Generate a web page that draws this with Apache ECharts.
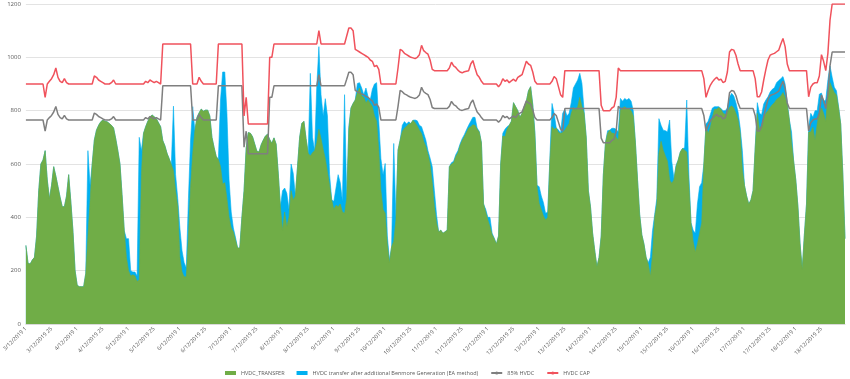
<!DOCTYPE html>
<html>
<head>
<meta charset="utf-8">
<script src="https://cdn.jsdelivr.net/npm/echarts@6/dist/echarts.min.js"></script>
<style>
html,body{margin:0;padding:0;background:#fff;}
#chart{width:850px;height:379px;}
</style>
</head>
<body>
<div id="chart"></div>
<script>
// Days of December 2019 shown; hourly samples (trading periods 1,3,5,...,47)
const days = [3,4,5,6,7,8,9,10,11,12,13,14,15,16,17,18];
const categories = [];
days.forEach(function(d){ for (let i = 0; i < 24; i++) categories.push(d + '/12/2019 ' + (1 + 2 * i)); });

const seriesNames = ['HVDC_TRANSFER','HVDC transfer after additional Benmore Generation (EA method)','85% HVDC','HVDC CAP'];

const hvdcTransfer = [
 295,228,225,240,250,330,500,600,615,650,540,470,520,590,555,515,475,440,440,480,560,460,350,200,
 145,140,140,140,190,330,460,600,690,727,745,758,765,760,758,752,745,735,695,650,600,480,350,250,
 200,180,185,180,160,165,560,715,740,760,775,784,777,770,755,740,688,668,640,620,598,575,500,440,
 250,195,177,177,330,515,640,725,775,792,806,798,802,802,780,700,662,628,617,590,525,530,470,400,
 360,345,315,285,285,400,500,660,718,715,702,675,648,645,672,690,705,712,692,678,698,675,565,440,
 352,420,365,400,500,465,480,590,700,752,760,695,640,630,642,650,680,730,695,655,620,570,520,465,
 430,445,440,450,420,415,470,730,810,827,840,868,885,855,850,830,840,827,815,780,760,650,500,430,
 415,300,230,290,310,390,652,690,722,734,742,750,752,764,755,742,727,714,685,666,636,600,530,440,
 380,345,352,340,346,352,590,600,605,628,642,668,688,702,718,735,740,747,745,730,720,680,450,420,
 390,365,335,320,300,330,600,705,702,730,745,760,830,815,800,775,790,815,835,875,890,820,710,515,
 452,428,405,390,400,610,740,730,735,718,715,718,727,740,752,790,812,802,815,850,815,790,700,500,
 440,340,275,215,250,330,560,680,715,727,715,715,700,690,802,810,815,808,805,800,780,680,540,410,
 335,300,250,225,180,260,400,450,640,685,652,630,610,540,528,540,590,615,645,658,652,645,520,380,
 310,270,300,340,380,600,740,715,735,775,805,805,812,805,790,786,792,812,818,810,790,765,715,580,
 520,480,450,465,500,660,790,730,745,775,790,800,812,822,830,842,848,855,868,850,822,765,680,610,
 540,440,300,205,335,450,720,720,738,690,750,792,810,790,760,865,905,885,868,858,810,750,560,320
];

const hvdcAfterBenmore = [
 295,228,225,240,250,330,500,600,615,650,540,470,520,590,555,515,475,440,440,480,560,460,350,200,
 145,140,140,140,190,650,520,600,690,727,745,758,765,760,758,752,745,735,695,650,600,480,350,320,
 320,200,195,195,180,700,650,715,740,760,775,784,777,770,755,740,688,668,640,620,598,817,560,470,
 360,275,230,210,470,690,815,725,775,792,806,798,802,802,780,700,662,628,617,840,945,945,790,540,
 420,360,325,285,285,400,500,660,718,715,702,675,648,645,672,690,705,712,692,678,698,675,565,440,
 500,510,490,430,600,565,480,590,700,752,760,695,640,940,700,650,890,1040,860,780,845,780,560,465,
 460,510,560,530,460,860,470,740,810,827,840,902,905,885,860,885,852,840,880,900,905,760,620,560,
 602,330,240,290,677,400,652,690,745,759,750,758,752,764,765,762,745,740,715,690,650,622,590,500,
 410,345,352,340,346,352,590,605,610,635,650,675,695,710,728,745,760,775,775,735,722,680,450,430,
 400,400,340,322,300,330,600,715,730,740,745,760,830,815,800,775,790,815,835,875,890,825,720,520,
 515,480,455,415,420,620,827,790,735,728,715,790,805,780,790,830,885,900,915,940,902,800,700,500,
 440,340,275,215,250,330,560,680,725,727,734,734,730,720,846,835,846,840,846,835,800,680,540,410,
 335,300,250,230,250,350,410,470,770,745,727,725,720,765,610,545,595,615,645,658,660,840,560,380,
 352,340,450,515,530,600,750,760,785,810,815,815,815,808,800,800,810,850,865,855,830,795,735,650,
 520,480,450,465,500,660,830,790,785,825,840,852,870,880,886,905,913,920,928,900,830,765,720,610,
 540,440,300,205,335,450,740,790,775,800,800,862,866,835,840,915,968,925,888,875,815,750,560,320
];

const hvdc85 = [
 765,765,765,765,765,765,765,765,765,723,765,774,782,795,816,786,774,769,782,769,765,765,765,765,
 765,765,765,765,765,765,765,765,791,786,778,774,769,765,765,765,769,778,765,765,765,765,765,765,
 765,765,765,765,765,765,765,765,774,769,778,774,769,774,769,765,893,893,893,893,893,893,893,893,
 893,893,893,893,893,893,765,765,765,786,774,765,765,765,765,765,765,765,893,893,893,893,893,893,
 893,893,893,893,893,893,663,723,638,638,638,638,638,638,638,638,638,638,850,850,893,893,893,893,
 893,893,893,893,893,893,893,893,893,893,893,893,893,893,893,893,893,935,893,893,893,893,893,893,
 893,893,893,893,893,893,918,944,944,935,876,871,867,863,859,854,850,842,837,820,825,812,765,765,
 765,765,765,765,765,765,816,876,871,863,859,854,850,848,846,850,859,888,871,865,860,842,812,808,
 808,808,808,808,808,808,816,835,823,818,809,803,801,804,806,808,829,840,816,795,786,774,765,765,
 765,765,765,765,765,757,765,782,774,778,769,775,780,774,786,791,795,816,837,829,825,803,774,765,
 765,765,765,765,765,765,774,789,782,757,731,723,808,808,808,808,808,808,808,808,808,808,808,808,
 808,808,808,808,808,697,680,680,680,680,689,693,723,816,808,808,808,808,808,808,808,808,808,808,
 808,808,808,808,808,808,808,808,808,808,808,808,808,808,808,808,808,808,808,808,808,808,808,808,
 808,808,808,808,808,782,723,744,761,772,780,786,778,780,769,774,803,867,876,873,857,829,808,808,
 808,808,808,808,808,782,724,724,740,778,812,842,857,860,863,868,873,893,910,884,829,808,808,808,
 808,808,808,808,808,808,724,755,765,769,769,791,859,837,808,863,969,1020,1020,1020,1020,1020,1020,1020
];

const hvdcCap = [
 900,900,900,900,900,900,900,900,900,850,900,910,920,935,960,925,910,905,920,905,900,900,900,900,
 900,900,900,900,900,900,900,900,930,925,915,910,905,900,900,900,905,915,900,900,900,900,900,900,
 900,900,900,900,900,900,900,900,910,905,915,910,905,910,905,900,1050,1050,1050,1050,1050,1050,1050,1050,
 1050,1050,1050,1050,1050,1050,900,900,900,925,910,900,900,900,900,900,900,900,1050,1050,1050,1050,1050,1050,
 1050,1050,1050,1050,1050,1050,780,850,750,750,750,750,750,750,750,750,750,750,1000,1000,1050,1050,1050,1050,
 1050,1050,1050,1050,1050,1050,1050,1050,1050,1050,1050,1050,1050,1050,1050,1050,1050,1100,1050,1050,1050,1050,1050,1050,
 1050,1050,1050,1050,1050,1050,1080,1110,1110,1100,1030,1025,1020,1015,1010,1005,1000,990,985,965,970,955,900,900,
 900,900,900,900,900,900,960,1030,1025,1015,1010,1005,1000,998,995,1000,1010,1045,1025,1018,1012,990,955,950,
 950,950,950,950,950,950,960,982,968,962,952,945,942,946,948,950,975,988,960,935,925,910,900,900,
 900,900,900,900,900,890,900,920,910,915,905,912,918,910,925,930,935,960,985,975,970,945,910,900,
 900,900,900,900,900,900,910,928,920,890,860,850,950,950,950,950,950,950,950,950,950,950,950,950,
 950,950,950,950,950,820,800,800,800,800,810,815,850,960,950,950,950,950,950,950,950,950,950,950,
 950,950,950,950,950,950,950,950,950,950,950,950,950,950,950,950,950,950,950,950,950,950,950,950,
 950,950,950,950,950,920,850,875,895,908,918,925,915,918,905,910,945,1020,1030,1027,1008,975,950,950,
 950,950,950,950,950,920,852,852,870,915,955,990,1008,1012,1015,1021,1027,1050,1071,1040,975,950,950,950,
 950,950,950,950,950,950,852,888,900,905,905,930,1010,985,950,1015,1140,1200,1200,1200,1200,1200,1200,1200
];

const colors = { green: '#70AD47', blue: '#00B0F0', grey: '#7F7F7F', red: '#F0525C' };
const font = 'Open Sans, Liberation Sans, sans-serif';

const chart = echarts.init(document.getElementById('chart'), null, { renderer: 'canvas' });
chart.setOption({
  animation: false,
  backgroundColor: '#ffffff',
  grid: { left: 22, right: 5, top: 4, bottom: 55, containLabel: false },
  legend: {
    left: 220, top: 365,
    itemWidth: 11, itemHeight: 4, itemGap: 12,
    textStyle: { fontSize: 5.5, color: '#595959', fontFamily: font },
    data: [
      { name: seriesNames[0], icon: 'rect' },
      { name: seriesNames[1], icon: 'rect' },
      { name: seriesNames[2] },
      { name: seriesNames[3] }
    ]
  },
  xAxis: {
    type: 'category',
    data: categories,
    boundaryGap: false,
    axisLine: { show: true, lineStyle: { color: '#D9D9D9', width: 1 } },
    axisTick: { show: false },
    axisLabel: {
      interval: function (idx) { return idx % 12 === 0; },
      rotate: 45, fontSize: 5.5, color: '#595959', margin: 4, fontFamily: font
    },
    splitLine: { show: false }
  },
  yAxis: {
    type: 'value', min: 0, max: 1200, interval: 200,
    axisLine: { show: false }, axisTick: { show: false },
    axisLabel: { fontSize: 6, color: '#595959', margin: 5, fontFamily: font,
      formatter: function (v) { return String(v); } },
    splitLine: { show: true, lineStyle: { color: '#E3E3E3', width: 1 } }
  },
  series: [
    {
      name: seriesNames[1], type: 'line', data: hvdcAfterBenmore, symbol: 'none', z: 1,
      itemStyle: { color: colors.blue },
      lineStyle: { color: colors.blue, width: 0.6 },
      areaStyle: { color: colors.blue, opacity: 1 }
    },
    {
      name: seriesNames[0], type: 'line', data: hvdcTransfer, symbol: 'none', z: 2,
      itemStyle: { color: colors.green },
      lineStyle: { color: colors.green, width: 0.6 },
      areaStyle: { color: colors.green, opacity: 1 }
    },
    {
      name: seriesNames[2], type: 'line', data: hvdc85, symbol: 'none', z: 3,
      itemStyle: { color: colors.grey },
      lineStyle: { color: colors.grey, width: 1.5 }
    },
    {
      name: seriesNames[3], type: 'line', data: hvdcCap, symbol: 'none', z: 4,
      itemStyle: { color: colors.red },
      lineStyle: { color: colors.red, width: 1.5 }
    }
  ]
});
</script>
</body>
</html>
